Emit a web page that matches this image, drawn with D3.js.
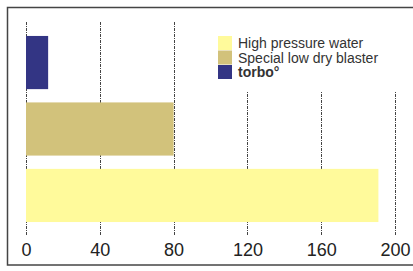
<!DOCTYPE html>
<html>
<head>
<meta charset="utf-8">
<script src="https://d3js.org/d3.v7.min.js"></script>
<style>
  body { margin: 0; background: #fff; }
  svg { display: block; font-family: "Liberation Sans", Arial, sans-serif; }
</style>
</head>
<body>
<div id="container"></div>
<script>
// values
const categories = ["torbo\u00b0", "Special low dry blaster", "High pressure water"];
const values = [12, 80, 191];
const colors = ["#333584", "#d2c27b", "#fffa9b"];
const ticks = [0, 40, 80, 120, 160, 200];
const legendOrder = ["High pressure water", "Special low dry blaster", "torbo\u00b0"];

const w = 413, h = 271;

const xScale = d3.scaleLinear().domain([0, 200]).range([26, 395]);
const yScale = d3.scaleBand().domain(categories).range([22, 236]).paddingInner(0.2).paddingOuter(0.21);
const colorScale = d3.scaleOrdinal().domain(categories).range(colors);

const svg = d3.select("#container").append("svg")
  .attr("width", w).attr("height", h);

// frame
svg.append("rect")
  .attr("x", 7.5).attr("y", 7.5).attr("width", 420).attr("height", 257.5)
  .attr("fill", "#fff").attr("stroke", "#444").attr("stroke-width", 1.5);

// vertical grid lines
svg.append("g").selectAll("line")
  .data(ticks).enter().append("line")
  .attr("x1", d => Math.round(xScale(d)) + 0.5)
  .attr("x2", d => Math.round(xScale(d)) + 0.5)
  .attr("y1", 22).attr("y2", 236)
  .attr("stroke", "#444").attr("stroke-width", 1)
  .attr("stroke-dasharray", "3,1,1,1");

// legend background hides grid
svg.append("rect")
  .attr("x", 195).attr("y", 20).attr("width", 230).attr("height", 72)
  .attr("fill", "#fff");

// bars
svg.append("g").selectAll("rect")
  .data(values).enter().append("rect")
  .attr("x", xScale(0))
  .attr("y", (d, i) => yScale(categories[i]))
  .attr("width", d => xScale(d) - xScale(0))
  .attr("height", yScale.bandwidth())
  .attr("fill", (d, i) => colorScale(categories[i]));

// x axis labels
const xAxis = d3.axisBottom(xScale).tickValues(ticks).tickSize(0).tickPadding(0);
const gx = svg.append("g").attr("transform", "translate(0,243)").call(xAxis);
gx.select(".domain").remove();
gx.selectAll("text")
  .attr("font-size", 18).attr("fill", "#222")
  .attr("font-family", "Liberation Sans, Arial, sans-serif")
  .attr("dy", "0.71em");

// legend
const lg = svg.append("g").attr("transform", "translate(218,36)");
const item = lg.selectAll("g").data(legendOrder).enter().append("g")
  .attr("transform", (d, i) => "translate(0," + (i * 14.5) + ")");
item.append("rect")
  .attr("width", 14).attr("height", 14)
  .attr("fill", d => colorScale(d));
item.append("text")
  .attr("x", 20).attr("y", 12)
  .attr("font-size", 14)
  .attr("fill", "#333")
  .attr("font-weight", d => d.startsWith("torbo") ? "bold" : "normal")
  .text(d => d);
</script>
</body>
</html>
